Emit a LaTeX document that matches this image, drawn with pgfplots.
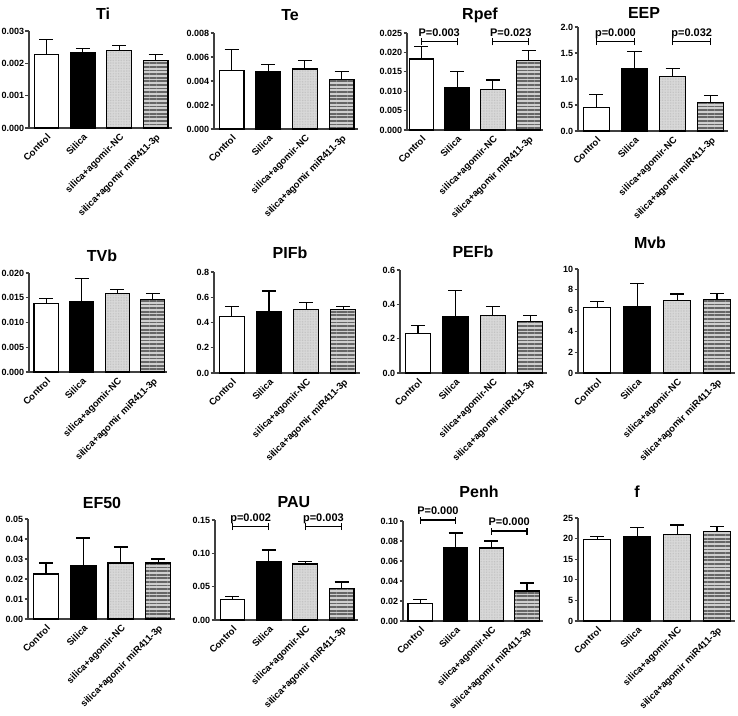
\documentclass[border=0pt]{standalone}
\usepackage{fontspec}
\setmainfont{Liberation Sans}
\usepackage{pgfplots}
\pgfplotsset{compat=1.18}
\usetikzlibrary{patterns,patterns.meta}

\pgfplotsset{
  panel/.style={
    scale only axis, anchor=south west,
    axis lines=left, axis line style={-, line width=1.1pt, black!75},
    xmin=0.52, xmax=4.45, ymin=0,
    xtick={1,2,3,4},
    xticklabels={Control,Silica,silica+agomir-NC,silica+agomir miR411-3p},
    x tick style={draw=none},
    xticklabel style={rotate=45, anchor=north east, inner sep=1pt,
      font=\bfseries\fontsize{9.5}{9.5}\selectfont},
    yticklabel style={font=\bfseries\fontsize{9}{9}\selectfont, inner sep=1.2pt,
      /pgf/number format/fixed, /pgf/number format/fixed zerofill,
      /pgf/number format/assume math mode=true},
    y tick style={line width=1.1pt, black!75},
    tick align=outside, major tick length=3.5pt,
    scaled y ticks=false, clip=false,
  },
  prec/.style={yticklabel style={/pgf/number format/precision=#1}},
  errs/.style={
    error bars/y dir=plus, error bars/y explicit,
    error bars/error bar style={line width=1.1pt, black, solid},
    error bars/error mark options={rotate=90, mark size=7pt, line width=1.1pt, black}},
  bar/.style={ybar, bar shift=0pt, bar width=0.68, draw=black, line width=1.1pt, errs},
  ctrl/.style={bar, fill=white},
  sil/.style={bar, fill=black},
  nc/.style={bar, preaction={fill=gray!30},
    pattern={Dots[distance=1.6pt, radius=0.35pt]}, pattern color=gray!60},
  mir/.style={bar, preaction={fill=gray!38},
    pattern={Lines[angle=0, distance=3.6pt, line width=1.8pt]}, pattern color=black!60},
}

% significance bracket between bars #1 and #1+1 at height #2
\newcommand{\sig}[3]{%
  \draw[line width=1.1pt] (axis cs:#1,#2) -- (axis cs:#1+1,#2);
  \draw[line width=1.1pt] ([yshift=-3.5pt]axis cs:#1,#2) -- ([yshift=3.5pt]axis cs:#1,#2);
  \draw[line width=1.1pt] ([yshift=-3.5pt]axis cs:#1+1,#2) -- ([yshift=3.5pt]axis cs:#1+1,#2);
  \node[anchor=base, inner sep=0pt, font=\bfseries\fontsize{11}{11}\selectfont]
    at ([yshift=5.5pt]axis cs:#1.5,#2) {#3};}

\begin{document}
\begin{tikzpicture}
\useasboundingbox (0,0) rectangle (738pt,-715pt);

% ---- row 1 ----
\begin{axis}[panel, prec=3, at={(29pt,-128pt)}, width=143pt, height=97pt,
  ymax=0.003, ytick={0,0.001,0.002,0.003}]
\addplot[ctrl] coordinates {(1,0.00228) +- (0,0.00047)};
\addplot[sil]  coordinates {(2,0.00233) +- (0,0.00013)};
\addplot[nc]   coordinates {(3,0.00240) +- (0,0.00016)};
\addplot[mir]  coordinates {(4,0.00210) +- (0,0.00018)};
\end{axis}

\begin{axis}[panel, prec=3, at={(214pt,-129pt)}, width=144pt, height=96pt,
  ymax=0.008, ytick={0,0.002,0.004,0.006,0.008}]
\addplot[ctrl] coordinates {(1,0.0049) +- (0,0.0017)};
\addplot[sil]  coordinates {(2,0.0048) +- (0,0.0006)};
\addplot[nc]   coordinates {(3,0.0050) +- (0,0.0007)};
\addplot[mir]  coordinates {(4,0.0041) +- (0,0.0007)};
\end{axis}

\begin{axis}[panel, prec=3, at={(407pt,-130pt)}, width=136pt, height=97pt,
  xmin=0.6, xmax=4.4, ymax=0.025, ytick={0,0.005,0.010,0.015,0.020,0.025}]
\addplot[ctrl] coordinates {(1,0.0183) +- (0,0.0032)};
\addplot[sil]  coordinates {(2,0.0110) +- (0,0.0041)};
\addplot[nc]   coordinates {(3,0.0105) +- (0,0.0024)};
\addplot[mir]  coordinates {(4,0.0178) +- (0,0.0028)};
\sig{1}{0.0227}{P=0.003}
\sig{3}{0.0227}{P=0.023}
\end{axis}

\begin{axis}[panel, prec=1, at={(578pt,-131pt)}, width=150pt, height=104pt,
  ymax=2, ytick={0,0.5,1,1.5,2}]
\addplot[ctrl] coordinates {(1,0.45) +- (0,0.25)};
\addplot[sil]  coordinates {(2,1.20) +- (0,0.33)};
\addplot[nc]   coordinates {(3,1.05) +- (0,0.16)};
\addplot[mir]  coordinates {(4,0.55) +- (0,0.14)};
\sig{1}{1.72}{p=0.000}
\sig{3}{1.72}{p=0.032}
\end{axis}

% ---- row 2 ----
\begin{axis}[panel, prec=3, at={(29pt,-372pt)}, width=138pt, height=99pt,
  xmax=4.4, ymax=0.020, ytick={0,0.005,0.010,0.015,0.020}]
\addplot[ctrl] coordinates {(1,0.0138) +- (0,0.0010)};
\addplot[sil]  coordinates {(2,0.0143) +- (0,0.0045)};
\addplot[nc]   coordinates {(3,0.0158) +- (0,0.0008)};
\addplot[mir]  coordinates {(4,0.0147) +- (0,0.0011)};
\end{axis}

\begin{axis}[panel, prec=1, at={(214pt,-373pt)}, width=146pt, height=101pt,
  ymax=0.8, ytick={0,0.2,0.4,0.6,0.8}]
\addplot[ctrl] coordinates {(1,0.450) +- (0,0.080)};
\addplot[sil]  coordinates {(2,0.490) +- (0,0.160)};
\addplot[nc]   coordinates {(3,0.505) +- (0,0.055)};
\addplot[mir]  coordinates {(4,0.505) +- (0,0.025)};
\end{axis}

\begin{axis}[panel, prec=1, at={(400pt,-373pt)}, width=147pt, height=103pt,
  ymax=0.6, ytick={0,0.2,0.4,0.6}]
\addplot[ctrl] coordinates {(1,0.230) +- (0,0.045)};
\addplot[sil]  coordinates {(2,0.330) +- (0,0.150)};
\addplot[nc]   coordinates {(3,0.335) +- (0,0.055)};
\addplot[mir]  coordinates {(4,0.300) +- (0,0.035)};
\end{axis}

\begin{axis}[panel, prec=0, at={(578pt,-373pt)}, width=157pt, height=104pt,
  ymax=10, ytick={0,2,4,6,8,10}]
\addplot[ctrl] coordinates {(1,6.3) +- (0,0.55)};
\addplot[sil]  coordinates {(2,6.4) +- (0,2.2)};
\addplot[nc]   coordinates {(3,7.0) +- (0,0.6)};
\addplot[mir]  coordinates {(4,7.1) +- (0,0.55)};
\end{axis}

% ---- row 3 ----
\begin{axis}[panel, prec=2, at={(28pt,-619pt)}, width=147pt, height=100pt,
  ymax=0.05, ytick={0,0.01,0.02,0.03,0.04,0.05}]
\addplot[ctrl] coordinates {(1,0.0225) +- (0,0.0055)};
\addplot[sil]  coordinates {(2,0.0265) +- (0,0.0140)};
\addplot[nc]   coordinates {(3,0.0280) +- (0,0.0080)};
\addplot[mir]  coordinates {(4,0.0280) +- (0,0.0020)};
\end{axis}

\begin{axis}[panel, prec=2, at={(215pt,-620pt)}, width=143pt, height=100pt,
  ymax=0.15, ytick={0,0.05,0.10,0.15}]
\addplot[ctrl] coordinates {(1,0.031) +- (0,0.004)};
\addplot[sil]  coordinates {(2,0.088) +- (0,0.017)};
\addplot[nc]   coordinates {(3,0.084) +- (0,0.004)};
\addplot[mir]  coordinates {(4,0.047) +- (0,0.010)};
\sig{1}{0.14}{p=0.002}
\sig{3}{0.14}{p=0.003}
\end{axis}

\begin{axis}[panel, prec=2, at={(403pt,-621pt)}, width=140pt, height=100pt,
  ymax=0.10, ytick={0,0.02,0.04,0.06,0.08,0.10}]
\addplot[ctrl] coordinates {(1,0.0175) +- (0,0.004)};
\addplot[sil]  coordinates {(2,0.0730) +- (0,0.015)};
\addplot[nc]   coordinates {(3,0.0730) +- (0,0.007)};
\addplot[mir]  coordinates {(4,0.0300) +- (0,0.008)};
\sig{1}{0.101}{P=0.000}
\sig{3}{0.090}{P=0.000}
\end{axis}

\begin{axis}[panel, prec=0, at={(578pt,-621pt)}, width=157pt, height=103pt,
  ymax=25, ytick={0,5,10,15,20,25}]
\addplot[ctrl] coordinates {(1,19.8) +- (0,0.8)};
\addplot[sil]  coordinates {(2,20.5) +- (0,2.1)};
\addplot[nc]   coordinates {(3,21.1) +- (0,2.2)};
\addplot[mir]  coordinates {(4,21.7) +- (0,1.2)};
\end{axis}

% ---- panel titles ----
\tikzset{ttl/.style={anchor=base, inner sep=0pt, font=\bfseries\fontsize{16}{16}\selectfont}}
\node[ttl] at (103pt,-19.7pt) {Ti};
\node[ttl] at (290pt,-20.7pt) {Te};
\node[ttl] at (480pt,-19.7pt) {Rpef};
\node[ttl] at (644pt,-18.7pt) {EEP};
\node[ttl] at (102pt,-261.7pt) {TVb};
\node[ttl] at (290pt,-258.7pt) {PIFb};
\node[ttl] at (473pt,-257.7pt) {PEFb};
\node[ttl] at (650pt,-248.7pt) {Mvb};
\node[ttl] at (102pt,-508.7pt) {EF50};
\node[ttl] at (294pt,-507.7pt) {PAU};
\node[ttl] at (479pt,-497.7pt) {Penh};
\node[ttl] at (637pt,-497.7pt) {f};
\end{tikzpicture}
\end{document}
